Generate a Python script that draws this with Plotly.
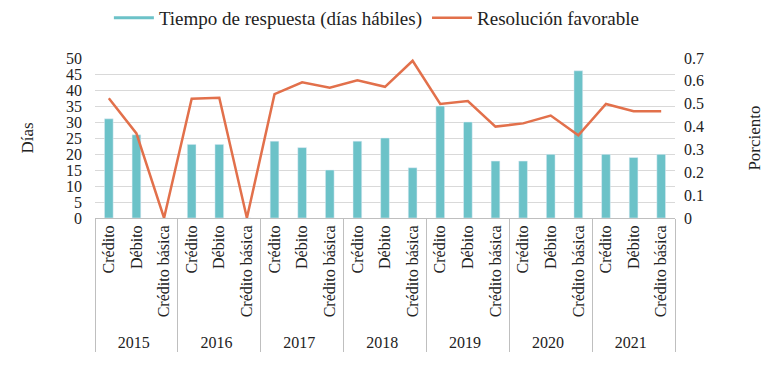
import plotly.graph_objects as go

years = ["2015"] * 3 + ["2016"] * 3 + ["2017"] * 3 + ["2018"] * 3 + ["2019"] * 3 + ["2020"] * 3 + ["2021"] * 3
products = ["Crédito", "Débito", "Crédito básica"] * 7

tiempo_respuesta = [31, 26, 0, 23, 23, 0, 24, 22, 15, 24, 25, 15.7,
                    35, 30, 17.8, 17.8, 19.9, 46, 19.9, 18.9, 19.9]
resolucion_favorable = [0.524, 0.37, 0, 0.522, 0.526, 0, 0.542, 0.594, 0.570,
                        0.602, 0.574, 0.688, 0.499, 0.512, 0.40, 0.414, 0.448,
                        0.362, 0.499, 0.467, 0.467]

teal = "#6CC2C8"
orange = "#E2704B"
font_family = "Liberation Serif, Times New Roman, Tinos, DejaVu Serif, serif"

fig = go.Figure()
fig.add_trace(go.Bar(x=[years, products], y=tiempo_respuesta, marker_color=teal,
                     name="Tiempo de respuesta (días hábiles)", showlegend=False))
fig.add_trace(go.Scatter(x=[None], y=[None], mode="lines", line=dict(color=teal, width=3),
                         name="Tiempo de respuesta (días hábiles)"))
fig.add_trace(go.Scatter(x=[years, products], y=resolucion_favorable, mode="lines",
                         line=dict(color=orange, width=2.5), yaxis="y2",
                         name="Resolución favorable"))

fig.update_layout(
    width=762, height=368,
    margin=dict(l=87, r=95, t=50, b=158, autoexpand=False),
    plot_bgcolor="white", paper_bgcolor="white",
    font=dict(family=font_family, size=17, color="#222"),
    bargap=0.685,
    showlegend=True,
    legend=dict(orientation="h", x=0.486, xanchor="center", y=1.25, yanchor="middle",
                font=dict(size=19), itemwidth=40, traceorder="normal"),
    xaxis=dict(type="multicategory", tickangle=-90, tickfont=dict(size=16),
               showline=True, linecolor="#BFBFBF", linewidth=1,
               showdividers=True, dividercolor="#BFBFBF", dividerwidth=1,
               ticks="", showgrid=False, automargin=False),
    yaxis=dict(range=[0, 50], dtick=5, showgrid=True, gridcolor="#D9D9D9",
               zeroline=False, ticks="", automargin=False, tickfont=dict(size=16),
               ticklabelstandoff=12,
               title=dict(text="Días", standoff=28, font=dict(size=17))),
    yaxis2=dict(range=[0, 0.7], dtick=0.1, overlaying="y", side="right",
                showgrid=False, zeroline=False, ticks="", automargin=False,
                tickfont=dict(size=16), ticklabelstandoff=8,
                title=dict(text="Porciento", standoff=45, font=dict(size=17))),
)

fig.write_html("out.html")
